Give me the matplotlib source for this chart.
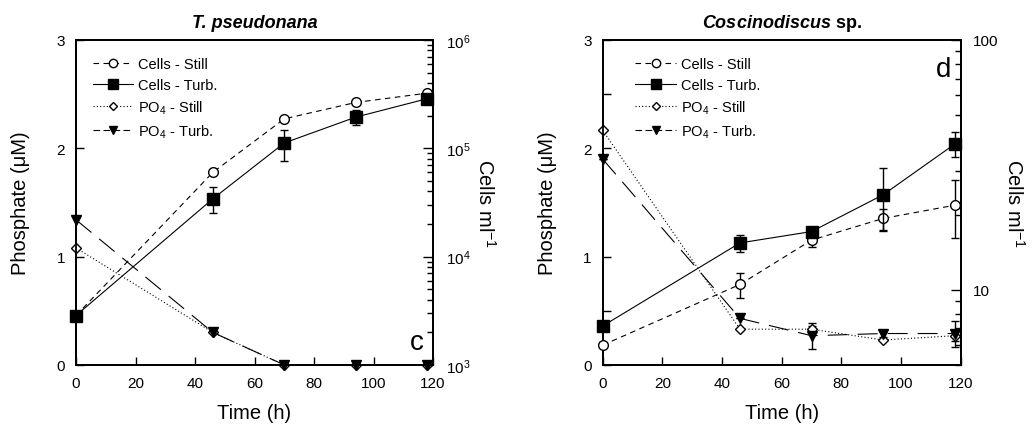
import numpy as np
import matplotlib
matplotlib.use("Agg")
import matplotlib.pyplot as plt
from matplotlib.lines import Line2D

plt.rcParams['font.family'] = ['Liberation Sans', 'DejaVu Sans']
plt.rcParams['mathtext.fontset'] = 'custom'
plt.rcParams['mathtext.rm'] = 'Liberation Sans'
plt.rcParams['mathtext.it'] = 'Liberation Sans:italic'
plt.rcParams['mathtext.bf'] = 'Liberation Sans:bold'
plt.rcParams['mathtext.bfit'] = 'Liberation Sans:italic:bold'

# sampling times (h)
time_h = [0, 46, 70, 94, 118]

# T. pseudonana
tp_po4_still = [1.08, 0.30, 0.0, 0.0, 0.0]
tp_po4_turb = [1.34, 0.30, 0.0, 0.0, 0.0]
tp_cells_still = [2860, 60000, 187000, 265000, 323000]
tp_cells_turb = [2860, 34200, 112000, 194000, 287000]
tp_cells_turb_lo = [2860, 25400, 75700, 163000, 287000]
tp_cells_turb_hi = [2860, 43800, 148000, 224000, 287000]

# Coscinodiscus sp.
co_po4_still = [2.165, 0.33, 0.33, 0.23, 0.27]
co_po4_still_err = [0.0, 0.0, 0.03, 0.0, 0.05]
co_po4_turb = [1.90, 0.43, 0.27, 0.29, 0.29]
co_po4_turb_err = [0.0, 0.0, 0.12, 0.03, 0.12]
co_cells_still = [6.0, 10.5, 15.8, 19.3, 21.8]
co_cells_still_lo = [6.0, 9.3, 14.8, 17.2, 16.1]
co_cells_still_hi = [6.0, 11.7, 16.5, 21.1, 27.4]
co_cells_turb = [7.16, 15.4, 17.1, 24.0, 38.3]
co_cells_turb_lo = [7.16, 14.1, 17.1, 17.3, 34.0]
co_cells_turb_hi = [7.16, 16.5, 17.1, 30.7, 42.8]

LW = 0.8
S_STILL = (0, (5, 4))
S_PO4_STILL = (0, (1, 2))
S_PO4_TURB = (0, (18, 9))


def style_axes(ax, ax2):
    for a in (ax, ax2):
        for sp in a.spines.values():
            sp.set_linewidth(1.3)
    ax.tick_params(axis='both', which='both', direction='in', labelsize=11, pad=8,
                   top=False, right=False, width=1.0)
    ax.tick_params(which='major', length=6)
    ax.tick_params(which='minor', length=6)
    ax2.tick_params(axis='y', which='both', direction='in', labelsize=11, pad=9, width=1.0)
    ax2.tick_params(which='major', length=7)
    ax2.tick_params(which='minor', length=4)
    ax.set_xlim(0, 120)
    ax.set_xticks(np.arange(0, 121, 20))
    ax.set_ylim(0, 3)
    ax.set_yticks([0, 1, 2, 3])
    ax.set_xlabel('Time (h)', fontsize=14.5, labelpad=9)
    ax.set_ylabel('Phosphate (\u03bcM)', fontsize=14.5, labelpad=19)
    ax2.set_ylabel('Cells ml$^{-1}$', fontsize=14.5, rotation=270, labelpad=19)


def add_legend(ax, x, y):
    handles = [
        Line2D([], [], color='k', lw=LW, ls=S_STILL, marker='o', mfc='white', mec='k', ms=6),
        Line2D([], [], color='k', lw=LW, ls='-', marker='s', mfc='k', mec='k', ms=7),
        Line2D([], [], color='k', lw=LW, ls=S_PO4_STILL, marker='D', mfc='white', mec='k', ms=4.5),
        Line2D([], [], color='k', lw=LW, ls=(0, (6, 3)), marker='v', mfc='k', mec='k', ms=6),
    ]
    labels = ['Cells - Still', 'Cells - Turb.', 'PO$_4$ - Still', 'PO$_4$ - Turb.']
    ax.legend(handles, labels, loc='upper left', bbox_to_anchor=(x, y), frameon=False,
              fontsize=10.5, handlelength=2.8, handletextpad=0.3, labelspacing=0.45,
              borderaxespad=0, numpoints=1)


fig = plt.figure(figsize=(10.34, 4.27), dpi=100)
axL = fig.add_axes([0.0735, 0.143, 0.3453, 0.761])
axR = fig.add_axes([0.5829, 0.143, 0.3462, 0.761])

# ---- left panel: T. pseudonana ----
axL2 = axL.twinx()
axL.plot(time_h, tp_po4_still, color='k', lw=LW, ls=S_PO4_STILL, marker='D', mfc='white',
         mec='k', ms=5, clip_on=False, zorder=3)
axL.plot(time_h, tp_po4_turb, color='k', lw=LW, ls=S_PO4_TURB, marker='v', mfc='k',
         mec='k', ms=7, clip_on=False, zorder=3)
axL2.set_yscale('log')
axL2.set_ylim(1e3, 1e6)
axL2.plot(time_h, tp_cells_still, color='k', lw=LW, ls=S_STILL, marker='o', mfc='white',
          mec='k', ms=7, clip_on=False, zorder=3)
err = [np.array(tp_cells_turb) - np.array(tp_cells_turb_lo),
       np.array(tp_cells_turb_hi) - np.array(tp_cells_turb)]
axL2.errorbar(time_h, tp_cells_turb, yerr=err, color='k', lw=LW, ls='-', marker='s',
              mfc='k', mec='k', ms=8.5, capsize=3, elinewidth=1.0, capthick=1.0,
              clip_on=False, zorder=4)
axL2.set_yticks([1e3, 1e4, 1e5, 1e6])
axL2.set_yticklabels(['10$^{3}$', '10$^{4}$', '10$^{5}$', '10$^{6}$'])
style_axes(axL, axL2)
axL.set_title('T. pseudonana', fontsize=13, fontweight='bold', style='italic', pad=9)
axL.text(0.975, 0.03, 'c', transform=axL.transAxes, fontsize=20, ha='right', va='bottom')
add_legend(axL, 0.03, 0.965)

# ---- right panel: Coscinodiscus sp. ----
axR2 = axR.twinx()
axR.errorbar(time_h, co_po4_still, yerr=co_po4_still_err, color='k', lw=LW, ls=S_PO4_STILL,
             marker='D', mfc='white', mec='k', ms=5, capsize=3, elinewidth=1.0,
             clip_on=False, zorder=3)
axR.errorbar(time_h, co_po4_turb, yerr=co_po4_turb_err, color='k', lw=LW, ls=S_PO4_TURB,
             marker='v', mfc='k', mec='k', ms=7, capsize=3, elinewidth=1.0,
             clip_on=False, zorder=3)
axR2.set_yscale('log')
axR2.set_ylim(5, 100)
err_s = [np.array(co_cells_still) - np.array(co_cells_still_lo),
         np.array(co_cells_still_hi) - np.array(co_cells_still)]
axR2.errorbar(time_h, co_cells_still, yerr=err_s, color='k', lw=LW, ls=S_STILL, marker='o',
              mfc='white', mec='k', ms=7, capsize=3, elinewidth=1.0, clip_on=False, zorder=3)
err_t = [np.array(co_cells_turb) - np.array(co_cells_turb_lo),
         np.array(co_cells_turb_hi) - np.array(co_cells_turb)]
axR2.errorbar(time_h, co_cells_turb, yerr=err_t, color='k', lw=LW, ls='-', marker='s',
              mfc='k', mec='k', ms=8.5, capsize=3, elinewidth=1.0, clip_on=False, zorder=4)
axR2.set_yticks([10, 100])
axR2.set_yticklabels(['10', '100'])
style_axes(axR, axR2)
axR.set_yticks([0.5, 2.5], minor=True)
axR.set_title('$\\mathbfit{Coscinodiscus}$ sp.', fontsize=13, fontweight='bold', pad=9)
axR.text(0.975, 0.95, 'd', transform=axR.transAxes, fontsize=20, ha='right', va='top')
add_legend(axR, 0.075, 0.965)

fig.savefig('out.png', dpi=100)
